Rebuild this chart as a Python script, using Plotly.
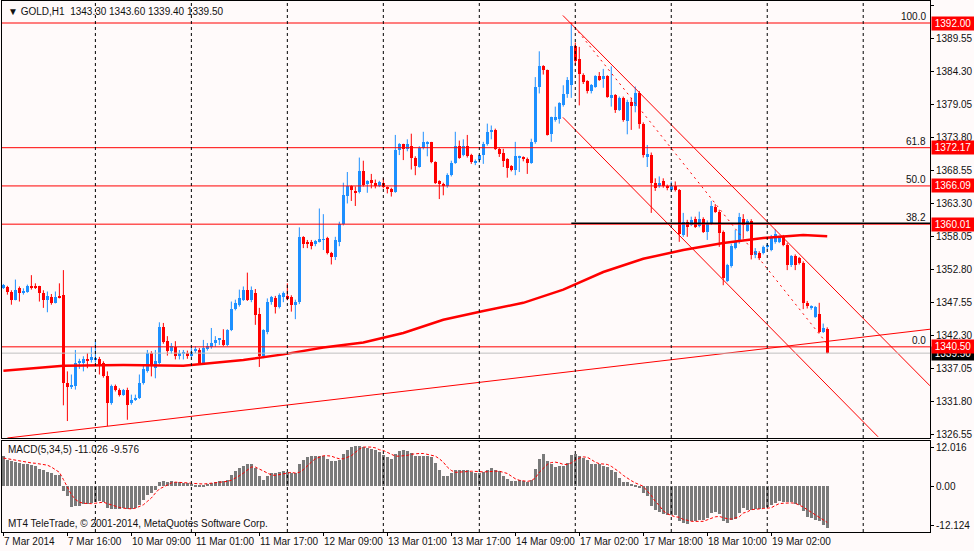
"""
GOLD H1 chart, MT4 look (Plotly)
"""
import plotly.graph_objects as go

# ─── DATA ──────────────────────────────────────────────────
OPEN = [
    1349.9, 1350.0, 1349.3, 1348.0, 1349.8, 1349.0, 1349.3, 1350.2, 1350.0, 1350.1,
    1349.1, 1348.0, 1348.5, 1347.4, 1348.6, 1348.8, 1334.7, 1334.2, 1334.2, 1337.9,
    1337.9, 1338.6, 1338.4, 1338.5, 1338.5, 1337.9, 1335.8, 1331.6, 1334.2, 1333.7,
    1332.9, 1333.7, 1331.6, 1332.1, 1332.4, 1334.7, 1336.6, 1339.5, 1337.1, 1337.9,
    1343.6, 1341.5, 1339.8, 1340.5, 1339.0, 1339.5, 1339.6, 1339.1, 1339.8, 1340.0,
    1337.9, 1340.3, 1340.4, 1341.1, 1341.6, 1341.6, 1340.8, 1343.2, 1346.5, 1347.1,
    1348.0, 1349.5, 1348.0, 1349.0, 1345.8, 1339.0, 1342.8, 1347.6, 1348.2, 1346.8,
    1348.5, 1348.6, 1348.5, 1347.2, 1347.6, 1357.9, 1357.2, 1357.1, 1356.8, 1357.2,
    1357.5, 1357.8, 1355.4, 1354.8, 1357.2, 1360.1, 1364.5, 1366.1, 1365.3, 1365.1,
    1368.5, 1366.4, 1367.0, 1366.6, 1366.1, 1366.5, 1365.8, 1365.6, 1365.2, 1371.8,
    1372.7, 1372.0, 1372.5, 1370.6, 1369.1, 1372.2, 1372.9, 1373.0, 1369.9, 1366.8,
    1366.4, 1366.0, 1367.8, 1369.8, 1372.4, 1371.0, 1372.4, 1371.0, 1369.8, 1370.2,
    1371.0, 1372.7, 1374.7, 1375.0, 1372.0, 1371.4, 1370.3, 1369.2, 1368.6, 1370.6,
    1370.7, 1370.4, 1369.8, 1373.1, 1381.9, 1385.1, 1384.5, 1374.4, 1376.5, 1376.8,
    1378.9, 1380.7, 1382.1, 1388.4, 1386.2, 1383.8, 1382.8, 1381.2, 1381.8, 1383.5,
    1383.1, 1383.5, 1380.2, 1380.5, 1378.2, 1380.1, 1376.4, 1379.5, 1378.8, 1380.9,
    1376.0, 1370.8, 1371.0, 1366.6, 1366.0, 1366.9, 1366.1, 1365.4, 1366.0, 1365.4,
    1358.3, 1360.4, 1359.9, 1360.8, 1359.7, 1360.9, 1358.8, 1360.1, 1362.8, 1362.0,
    1358.8, 1351.0, 1353.3, 1356.2, 1357.1, 1360.8, 1359.0, 1360.5, 1355.1, 1355.4,
    1355.5, 1356.4, 1355.9, 1357.1, 1357.2, 1358.0, 1356.7, 1353.5, 1355.0, 1354.6,
    1353.8, 1347.4, 1346.8, 1345.3, 1345.7, 1342.9, 1343.3,
]
HIGH = [
    1350.5, 1350.2, 1349.5, 1351.2, 1350.1, 1349.8, 1350.4, 1351.9, 1350.6, 1350.2,
    1349.5, 1349.3, 1348.9, 1349.3, 1350.6, 1352.7, 1336.6, 1336.1, 1340.0, 1338.6,
    1339.0, 1339.5, 1340.5, 1341.4, 1338.9, 1338.2, 1336.6, 1334.5, 1334.5, 1333.9,
    1333.8, 1334.0, 1332.9, 1332.9, 1336.1, 1337.7, 1340.0, 1339.8, 1340.0, 1344.4,
    1344.3, 1342.2, 1341.1, 1341.4, 1340.0, 1340.0, 1339.9, 1340.3, 1340.6, 1340.3,
    1341.6, 1341.1, 1343.5, 1342.2, 1341.9, 1343.3, 1343.3, 1347.7, 1348.0, 1349.6,
    1350.1, 1352.3, 1350.1, 1349.7, 1346.7, 1343.3, 1348.2, 1348.6, 1348.6, 1349.0,
    1349.3, 1350.6, 1348.7, 1348.0, 1359.5, 1358.1, 1357.5, 1357.5, 1357.5, 1362.5,
    1361.6, 1358.0, 1355.6, 1358.0, 1360.4, 1366.6, 1368.3, 1366.2, 1366.0, 1370.6,
    1370.1, 1367.0, 1368.0, 1367.1, 1366.9, 1367.3, 1366.0, 1365.8, 1374.2, 1372.9,
    1372.8, 1373.5, 1374.4, 1370.8, 1372.4, 1374.7, 1373.2, 1373.1, 1370.0, 1367.0,
    1366.6, 1368.1, 1370.1, 1374.7, 1373.3, 1373.5, 1374.2, 1371.2, 1370.3, 1371.1,
    1373.1, 1376.0, 1375.7, 1375.2, 1372.2, 1372.0, 1370.5, 1369.4, 1373.1, 1370.9,
    1370.8, 1370.6, 1373.6, 1383.4, 1387.5, 1385.3, 1384.6, 1377.1, 1378.7, 1379.4,
    1382.1, 1383.4, 1391.8, 1388.9, 1388.2, 1384.0, 1382.9, 1382.3, 1383.7, 1384.2,
    1384.7, 1383.7, 1385.1, 1380.7, 1380.3, 1380.3, 1379.8, 1380.1, 1381.9, 1381.2,
    1376.2, 1372.6, 1371.4, 1367.3, 1367.6, 1367.3, 1366.3, 1366.8, 1366.8, 1365.6,
    1361.8, 1360.7, 1361.2, 1361.2, 1362.0, 1361.1, 1360.6, 1363.7, 1363.2, 1362.3,
    1359.0, 1353.7, 1356.9, 1359.1, 1361.8, 1361.6, 1360.8, 1360.8, 1356.2, 1355.7,
    1356.6, 1357.0, 1358.3, 1359.2, 1358.2, 1358.3, 1357.0, 1355.1, 1355.2, 1354.8,
    1354.1, 1347.8, 1347.1, 1347.0, 1347.5, 1344.2, 1343.6,
]
LOW = [
    1349.7, 1348.8, 1347.2, 1347.9, 1347.7, 1348.8, 1349.1, 1349.6, 1349.7, 1347.7,
    1346.7, 1346.0, 1347.2, 1347.4, 1348.2, 1331.2, 1328.7, 1333.8, 1333.7, 1337.0,
    1336.6, 1337.1, 1338.0, 1338.0, 1336.1, 1335.6, 1327.9, 1331.3, 1333.4, 1332.6,
    1332.7, 1328.9, 1331.3, 1331.9, 1332.2, 1334.5, 1336.4, 1335.8, 1335.5, 1337.7,
    1341.0, 1339.1, 1339.4, 1338.5, 1338.5, 1338.5, 1338.6, 1338.9, 1339.5, 1337.7,
    1337.7, 1339.9, 1340.2, 1340.5, 1340.8, 1340.6, 1340.6, 1343.0, 1346.3, 1346.9,
    1347.8, 1347.8, 1347.6, 1344.0, 1337.3, 1338.7, 1342.5, 1347.2, 1345.8, 1346.6,
    1347.6, 1347.9, 1346.1, 1344.9, 1347.3, 1356.2, 1356.2, 1356.0, 1356.5, 1357.1,
    1355.9, 1355.2, 1353.6, 1354.3, 1356.5, 1359.8, 1363.3, 1363.7, 1362.9, 1364.9,
    1366.0, 1365.0, 1365.7, 1365.7, 1365.9, 1365.7, 1364.9, 1364.4, 1365.0, 1371.0,
    1370.2, 1371.6, 1368.7, 1367.8, 1369.0, 1371.9, 1370.8, 1369.7, 1366.4, 1364.0,
    1364.6, 1365.8, 1367.6, 1369.6, 1370.4, 1370.8, 1370.6, 1369.6, 1369.4, 1369.8,
    1369.6, 1372.5, 1373.5, 1371.8, 1370.7, 1369.1, 1367.4, 1368.4, 1367.8, 1368.3,
    1370.0, 1368.0, 1369.6, 1372.8, 1380.8, 1383.8, 1374.1, 1373.1, 1376.3, 1376.0,
    1378.7, 1380.1, 1380.1, 1385.3, 1378.9, 1382.3, 1380.8, 1380.8, 1381.7, 1382.8,
    1381.7, 1380.1, 1378.7, 1377.7, 1378.0, 1376.3, 1374.3, 1375.0, 1377.8, 1375.2,
    1370.6, 1369.1, 1361.8, 1365.3, 1365.8, 1365.8, 1365.4, 1365.2, 1365.2, 1357.2,
    1358.0, 1358.0, 1359.7, 1359.4, 1359.5, 1358.6, 1357.5, 1359.9, 1361.8, 1356.4,
    1350.3, 1350.8, 1353.1, 1356.0, 1356.9, 1357.8, 1358.8, 1354.4, 1354.6, 1354.3,
    1355.2, 1356.0, 1355.7, 1356.9, 1357.0, 1356.5, 1352.7, 1353.2, 1352.7, 1353.6,
    1346.5, 1346.6, 1346.4, 1345.1, 1342.7, 1342.7, 1339.4,
]
CLOSE = [
    1350.3, 1349.2, 1348.0, 1349.6, 1349.1, 1349.4, 1350.1, 1349.9, 1349.9, 1349.1,
    1348.0, 1348.6, 1347.4, 1348.5, 1348.4, 1334.7, 1334.1, 1334.3, 1337.9, 1338.3,
    1338.5, 1338.3, 1338.9, 1338.6, 1337.7, 1335.8, 1331.6, 1334.2, 1333.7, 1332.9,
    1333.6, 1331.3, 1332.1, 1332.4, 1334.7, 1336.9, 1339.5, 1337.4, 1338.2, 1343.7,
    1341.2, 1339.8, 1340.7, 1339.0, 1339.5, 1339.6, 1339.1, 1339.7, 1340.2, 1337.9,
    1340.3, 1340.6, 1341.1, 1341.6, 1341.7, 1340.8, 1343.2, 1346.5, 1347.5, 1348.3,
    1349.5, 1348.0, 1349.5, 1345.6, 1339.0, 1343.1, 1347.7, 1348.4, 1346.8, 1348.8,
    1349.0, 1348.1, 1347.2, 1347.6, 1357.9, 1356.9, 1356.9, 1356.5, 1357.4, 1357.6,
    1357.6, 1355.4, 1354.8, 1357.5, 1360.1, 1364.6, 1366.0, 1365.4, 1365.0, 1368.5,
    1366.2, 1366.9, 1366.5, 1366.1, 1366.7, 1365.9, 1365.7, 1365.2, 1371.8, 1372.7,
    1372.0, 1372.7, 1370.6, 1369.2, 1372.2, 1373.0, 1373.0, 1369.9, 1366.6, 1366.4,
    1366.1, 1367.9, 1369.7, 1372.4, 1370.6, 1372.4, 1370.8, 1369.9, 1370.1, 1371.0,
    1372.7, 1374.7, 1374.9, 1372.0, 1371.2, 1370.1, 1369.0, 1368.6, 1370.8, 1370.8,
    1370.3, 1369.8, 1373.1, 1381.9, 1385.1, 1384.5, 1374.2, 1377.0, 1377.0, 1379.2,
    1380.7, 1382.9, 1388.4, 1386.0, 1383.9, 1382.6, 1381.2, 1382.1, 1383.5, 1383.0,
    1383.6, 1380.3, 1380.5, 1378.2, 1380.1, 1376.5, 1379.4, 1378.8, 1380.9, 1376.0,
    1371.0, 1371.1, 1366.6, 1365.7, 1366.5, 1366.1, 1365.7, 1366.0, 1365.4, 1358.5,
    1360.4, 1359.5, 1360.7, 1359.6, 1360.9, 1358.8, 1360.1, 1362.9, 1362.0, 1358.6,
    1351.4, 1353.5, 1356.5, 1357.4, 1361.2, 1359.9, 1360.5, 1355.1, 1355.7, 1354.7,
    1356.4, 1356.7, 1358.0, 1358.5, 1357.8, 1356.7, 1353.5, 1354.9, 1353.5, 1353.8,
    1347.4, 1347.0, 1347.0, 1346.9, 1342.9, 1343.5, 1339.5,
]

MACD_HIST = [
    8.0, 7.1, 6.6, 6.4, 6.2, 5.8, 5.8, 5.6, 5.3, 4.6, 4.2, 3.7, 3.5, 3.1, 3.1,
    -1.3, -2.7, -5.6, -5.3, -5.1, -4.6, -4.6, -4.4, -4.2, -4.0, -4.2, -5.8, -5.9,
    -6.0, -6.0, -5.8, -6.0, -6.0, -5.8, -4.9, -3.5, -2.2, -1.8, -1.1,
    1.1, 1.3, 1.1, 1.3, 1.1, 1.1, 0.9, 0.9, 0.7, 0.4, 0.2, 0.4, 0.6, 0.9, 1.1,
    1.3, 1.3, 1.8,
    3.1, 4.0, 4.9, 5.5, 5.8, 5.8, 4.9, 2.7, 1.8, 2.7, 3.5, 3.5, 3.7, 4.0, 3.7,
    3.5, 3.4,
    5.8, 7.1, 7.8, 8.1, 8.1, 8.1, 8.1, 7.3, 6.6, 6.6, 6.9, 8.7, 9.7, 10.4, 10.8,
    10.8, 10.4, 10.2, 9.9, 9.6, 9.0, 8.4, 7.8, 7.3,
    8.7, 9.3, 9.6, 9.3, 8.9, 8.0, 8.0, 8.1, 8.0, 7.8, 6.2, 4.4, 2.8, 2.8, 3.4,
    4.2, 4.2, 4.4, 4.2, 3.7, 3.5, 3.5,
    3.7, 4.2, 4.9, 4.4, 4.0, 2.8, 1.9, 1.3, 1.3, 1.6, 1.3, 1.1, 1.8, 4.6, 7.3,
    8.7, 6.6, 5.8, 5.1, 5.3, 5.5, 6.2, 8.4, 8.7, 8.1, 7.5, 6.9, 6.0, 5.8, 6.0,
    5.3, 5.1, 4.4, 3.7, 2.2, 1.1, 1.1, 0.7, 0.4, -0.2,
    -1.9, -2.7, -5.3, -6.2, -6.9, -7.3, -7.5, -7.5, -7.5, -9.3, -9.6, -9.9,
    -9.3, -9.3, -9.0, -9.0, -8.4, -7.1, -6.9, -7.3, -9.3, -9.7, -9.0, -8.7,
    -7.1, -5.8, -6.2, -6.4, -6.0, -6.0, -5.8, -5.5, -4.9, -4.4, -4.0, -4.2,
    -4.2, -4.2, -4.6, -4.9, -6.6, -8.1, -8.4, -8.9, -9.3, -10.2, -11.026,
]
MACD_SIGNAL = [
    7.5, 7.3, 7.1, 6.8, 6.6, 6.5, 6.3, 6.2, 6.1, 5.9, 5.8, 5.6, 5.1, 4.4, 3.7,
    1.8, -0.4, -2.2, -3.5, -4.2, -4.5, -4.6, -4.6, -4.5, -4.3, -4.2, -4.6, -5.0,
    -5.2, -5.6, -5.8, -5.9, -6.0, -5.8, -5.3, -4.9, -4.0, -3.1, -1.8,
    -0.7, -0.2, 0.4, 0.9, 1.1, 1.1, 1.0, 0.9, 0.8, 0.7, 0.6, 0.6, 0.7, 0.8, 0.9,
    1.1, 1.2, 1.3,
    1.6, 2.1, 2.8, 3.5, 4.2, 5.1, 5.1, 4.6, 4.0, 3.5, 3.0, 2.9, 3.1, 3.4, 3.5,
    3.7, 3.5,
    3.7, 4.4, 5.5, 6.4, 7.3, 7.8, 8.1, 8.1, 8.0, 7.6, 7.3, 7.3, 7.6, 8.1, 9.0,
    9.9, 10.4, 10.4, 10.4, 10.2, 9.7, 9.5, 9.0, 8.5,
    8.0, 8.0, 8.0, 8.2, 8.5, 8.7, 8.7, 8.7, 8.5, 8.3, 8.0, 7.3, 6.4, 5.1, 4.2,
    3.7, 3.7, 3.7, 3.9, 4.0, 4.0, 3.9, 3.8, 3.9,
    4.0, 4.0, 4.0, 3.8, 3.4, 2.7, 2.0, 1.6, 1.4, 1.3,
    1.5, 2.2, 3.7, 4.9, 5.8, 6.3, 6.4, 6.2, 5.8, 5.8,
    6.2, 6.9, 7.5, 7.8, 7.7, 7.1, 6.4, 6.0, 5.9, 5.8,
    5.3, 4.6, 3.8, 2.9, 2.1, 1.5, 0.9, 0.5, 0.0, -1.3,
    -2.4, -4.0, -5.1, -6.5, -7.3, -7.7, -8.1, -8.2, -8.8, -9.0,
    -9.3, -9.3, -9.3, -9.3, -8.9, -8.5, -8.1, -8.0, -8.4, -8.6,
    -8.7, -8.3, -8.1, -7.1, -6.8, -6.2, -6.0, -6.0, -5.9, -5.8,
    -5.7, -5.1, -4.6, -4.5, -4.4, -4.4, -4.5, -4.9, -5.5, -6.2,
    -6.9, -7.5, -8.3, -9.0, -9.576,
]

# moving average read at a few bars
MA_BARS = [0, 15, 30, 45, 60, 70, 80, 90, 100, 110, 120, 130, 140, 150, 160,
           170, 180, 190, 200, 206]
MA_VALS = [1336.7, 1337.5, 1337.6, 1337.5, 1338.4, 1339.3, 1340.4, 1341.2,
           1342.7, 1344.8, 1346.2, 1347.5, 1349.6, 1352.4, 1354.5, 1355.9,
           1357.0, 1357.8, 1358.3, 1358.1]

# fibo / horizontal levels
LEVELS = [1392.00, 1372.17, 1366.09, 1360.01, 1340.50]
LEVEL_PCT = ["100.0", "61.8", "50.0", "38.2", "0.0"]
FIB_BASE = 1360.17
FIB_BASE_FROM = 142
BID = 1339.50

# trend lines (bar index, price)
SUPPORT_X, SUPPORT_Y = [1, 231.7], [1326.0, 1343.3]
CHAN_UP_X, CHAN_UP_Y = [139.9, 231.7], [1393.2, 1334.3]
CHAN_LO_X, CHAN_LO_Y = [139.9, 218.7], [1377.0, 1326.2]
CHAN_MID_X, CHAN_MID_Y = [141.9, 206.2], [1392.1, 1340.8]

PRICE_TICKS = [1394.80, 1389.55, 1384.30, 1379.05, 1373.80, 1368.55, 1363.30,
               1358.05, 1352.80, 1347.55, 1342.30, 1337.05, 1331.80, 1326.55]
TIME_BARS = [0, 16, 32, 48, 64, 80, 96, 112, 128, 144, 160, 176, 192]
TIME_LABELS = ["7 Mar 2014", "7 Mar 16:00", "10 Mar 09:00", "11 Mar 01:00",
               "11 Mar 17:00", "12 Mar 09:00", "13 Mar 01:00", "13 Mar 17:00",
               "14 Mar 09:00", "17 Mar 02:00", "17 Mar 18:00", "18 Mar 10:00",
               "19 Mar 02:00"]
GRID_BARS = [23, 47, 71, 95, 119, 143, 167, 191, 215]

# ─── STYLE ─────────────────────────────────────────────────
bg      = "#fffafa"
up_col  = "#1e90ff"
dn_col  = "#ff0000"
hist_c  = "#7a7a7a"
FONT    = "Liberation Sans"
FSIZE   = 10
X_RANGE = [-0.35, 231.7]

idx = list(range(len(CLOSE)))

fig = go.Figure()

# ── Candles: wicks ────────────────────────────────────────
for up in (True, False):
    wx, wy = [], []
    for i, o, h, l, c in zip(idx, OPEN, HIGH, LOW, CLOSE):
        if (c >= o) == up:
            wx += [i, i, None]
            wy += [l, h, None]
    fig.add_trace(go.Scatter(x=wx, y=wy, mode="lines",
                             line=dict(color=up_col if up else dn_col, width=1),
                             hoverinfo="skip", showlegend=False))

# ── Candles: bodies ───────────────────────────────────────
bases  = [min(o, c) for o, c in zip(OPEN, CLOSE)]
sizes  = [max(abs(c - o), 0.15) for o, c in zip(OPEN, CLOSE)]
colors = [up_col if c >= o else dn_col for o, c in zip(OPEN, CLOSE)]
fig.add_trace(go.Bar(x=idx, y=sizes, base=bases, width=0.75,
                     marker=dict(color=colors, line_width=0),
                     showlegend=False, hoverinfo="skip"))

# ── Horizontal levels ─────────────────────────────────────
for lv in LEVELS:
    fig.add_shape(type="line", xref="x domain", yref="y", x0=0, x1=1,
                  y0=lv, y1=lv, line=dict(color="red", width=1))
fig.add_shape(type="line", xref="x", yref="y", x0=FIB_BASE_FROM, x1=X_RANGE[1],
              y0=FIB_BASE, y1=FIB_BASE, line=dict(color="black", width=1.5))
fig.add_shape(type="line", xref="x domain", yref="y", x0=0, x1=1,
              y0=BID, y1=BID, line=dict(color="#c0c0c0", width=1))

# ── Moving average + trend lines ──────────────────────────
fig.add_trace(go.Scatter(x=MA_BARS, y=MA_VALS, mode="lines",
                         line=dict(color="red", width=2.5), showlegend=False))
for xs, ys, dash in [(SUPPORT_X, SUPPORT_Y, "solid"),
                     (CHAN_UP_X, CHAN_UP_Y, "solid"),
                     (CHAN_LO_X, CHAN_LO_Y, "solid"),
                     (CHAN_MID_X, CHAN_MID_Y, "2px,4px")]:
    fig.add_trace(go.Scatter(x=xs, y=ys, mode="lines", cliponaxis=True,
                             line=dict(color="red", width=1, dash=dash),
                             showlegend=False))

# ── MACD ──────────────────────────────────────────────────
fig.add_trace(go.Bar(x=idx, y=MACD_HIST, width=0.72, xaxis="x2", yaxis="y2",
                     marker=dict(color=hist_c, line_width=0), showlegend=False))
fig.add_trace(go.Scatter(x=idx, y=MACD_SIGNAL, mode="lines", xaxis="x2", yaxis="y2",
                         line=dict(color="red", width=1, dash="3px,2px"),
                         showlegend=False))

# ── Grid (vertical dashed) ────────────────────────────────
for g in GRID_BARS:
    fig.add_shape(type="line", xref="x", yref="y domain", x0=g, x1=g, y0=0, y1=1,
                  line=dict(color="black", width=1, dash="3px,3px"))
    fig.add_shape(type="line", xref="x2", yref="y2 domain", x0=g, x1=g, y0=0, y1=1,
                  line=dict(color="black", width=1, dash="3px,3px"))

# ── Annotations ───────────────────────────────────────────
ann = []
txt = dict(family=FONT, size=FSIZE, color="#111111")
ann.append(dict(xref="paper", yref="paper", x=0, y=1, xanchor="left", yanchor="top",
                xshift=4, yshift=-3, showarrow=False, font=txt,
                text="▼ GOLD,H1  1343.30 1343.60 1339.40 1339.50"))
ann.append(dict(xref="paper", yref="y2 domain", x=0, y=1, xanchor="left",
                yanchor="top", xshift=4, yshift=-1, showarrow=False, font=txt,
                text="MACD(5,34,5) -11.026 -9.576"))
ann.append(dict(xref="paper", yref="y2 domain", x=0, y=0, xanchor="left",
                yanchor="bottom", xshift=4, yshift=1, showarrow=False, font=txt,
                text="MT4 TeleTrade, © 2001-2014, MetaQuotes Software Corp."))
for lv, pct in zip(LEVELS, LEVEL_PCT):
    ann.append(dict(xref="paper", yref="y", x=1, y=lv, xanchor="right",
                    yanchor="bottom", xshift=-2, yshift=-1, showarrow=False,
                    font=txt, text=pct))
# price boxes on the right scale
ann.append(dict(xref="paper", yref="y", x=1, y=BID, xanchor="left", yanchor="middle",
                xshift=1, showarrow=False, bgcolor="black", width=40, height=11,
                font=dict(family=FONT, size=FSIZE, color="white"), text=f"{BID:.2f}"))
for lv in LEVELS:
    ann.append(dict(xref="paper", yref="y", x=1, y=lv, xanchor="left",
                    yanchor="middle", xshift=1, showarrow=False, bgcolor="red",
                    width=40, height=11,
                    font=dict(family=FONT, size=FSIZE, color="white"),
                    text=f"{lv:.2f}"))
for b, lab in zip(TIME_BARS, TIME_LABELS):
    ann.append(dict(xref="x2", yref="paper", x=b, y=0, xanchor="left", yanchor="top",
                    xshift=-1, yshift=-2, showarrow=False, font=txt, text=lab))

# ── Layout ────────────────────────────────────────────────
frame = dict(showline=True, mirror=True, linecolor="black", linewidth=1,
             showgrid=False, zeroline=False)
fig.update_layout(
    width=974, height=551,
    margin=dict(l=2, r=44, t=1, b=19),
    paper_bgcolor=bg, plot_bgcolor=bg,
    font=dict(family=FONT, size=FSIZE, color="#111111"),
    barmode="overlay", bargap=0,
    showlegend=False, hovermode=False,
    annotations=ann,
    xaxis=dict(**frame, domain=[0, 1], anchor="y", range=X_RANGE,
               showticklabels=False, ticks=""),
    xaxis2=dict(**frame, domain=[0, 1], anchor="y2", matches="x", range=X_RANGE,
                tickvals=TIME_BARS, ticktext=[""] * len(TIME_BARS),
                ticks="outside", ticklen=3, tickcolor="black"),
    yaxis=dict(**frame, domain=[0.177, 1], anchor="x", side="right",
               range=[1326.0, 1395.5], tickvals=PRICE_TICKS,
               ticktext=[f"{v:.2f}" for v in PRICE_TICKS],
               ticks="outside", ticklen=3, tickcolor="black"),
    yaxis2=dict(**frame, domain=[0, 0.1714], anchor="x2", side="right",
                range=[-12.124, 12.016], tickvals=[10.4, 0, -10.5],
                ticktext=["12.016", "0.00", "-12.124"],
                ticks="outside", ticklen=3, tickcolor="black"),
)

# page body has a default 8px margin; drop it so the figure fills the window
fig.write_html("out.html", config={"displayModeBar": False},
               post_script="document.body.style.margin='0';")
